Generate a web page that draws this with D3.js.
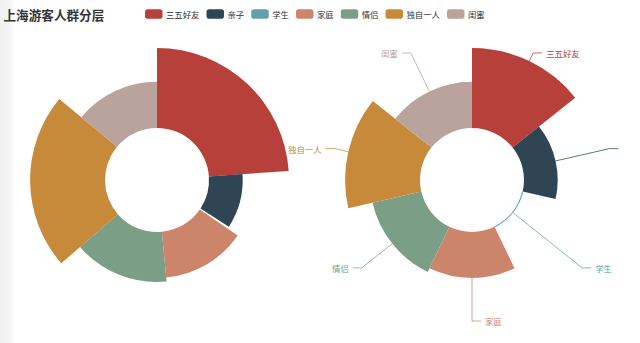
<!DOCTYPE html>
<html>
<head>
<meta charset="utf-8">
<script src="https://cdn.jsdelivr.net/npm/d3@7"></script>
<style>
  html, body { margin: 0; padding: 0; background: #fff; }
  svg { display: block; font-family: "Noto Sans CJK SC", "Noto Sans", sans-serif; }
</style>
</head>
<body>
<svg id="chart" width="640" height="343"></svg>
<script>
// Visitor groups and their counts
const categories = ["三五好友", "亲子", "学生", "家庭", "情侣", "独自一人", "闺蜜"];
const visitors = [239, 103, 4, 139, 151, 224, 140];
const palette = ["#b8403a", "#2f4554", "#61a0a8", "#cc846a", "#7b9e86", "#c7893a", "#b9a39c"];
const chartTitle = "上海游客人群分层";

const W = 640, H = 343;
const svg = d3.select("#chart");

// faint shaded margin on the left edge
const defs = svg.append("defs");
const grad = defs.append("linearGradient").attr("id", "edge").attr("x1", 0).attr("x2", 1);
grad.append("stop").attr("offset", 0).attr("stop-color", "#f1f1f1");
grad.append("stop").attr("offset", 0.7).attr("stop-color", "#f5f5f5");
grad.append("stop").attr("offset", 1).attr("stop-color", "#ffffff");
svg.append("rect").attr("x", 0).attr("y", 0).attr("width", 14).attr("height", H).attr("fill", "url(#edge)");

const data = categories.map((name, i) => ({ name, value: visitors[i], color: palette[i] }));

const innerR = 52, outerR = 132;
// rose radius: smallest value sits on the inner ring, largest on the outer ring
const rScale = d3.scaleLinear().domain(d3.extent(visitors)).range([innerR, outerR]);

const labelFont = 8.4;
const len1 = 9, len2 = 9, labelGap = 4, edgeMargin = 6;

function rose(cx, cy, mode, withLabels) {
  const pie = d3.pie().sort(null).value(d => (mode === "radius" ? d.value : 1));
  const arcs = pie(data);
  const g = svg.append("g").attr("transform", `translate(${cx},${cy})`);
  const arc = d3.arc().innerRadius(innerR).outerRadius(d => rScale(d.data.value));

  g.selectAll("path.slice").data(arcs).join("path")
    .attr("class", "slice")
    .attr("d", arc)
    .attr("fill", d => d.data.color)
    .attr("stroke", d => (mode === "area" && rScale(d.data.value) - innerR < 1) ? d.data.color : "none")
    .attr("stroke-width", 0.8);

  if (!withLabels) return;

  arcs.forEach(d => {
    const mid = (d.startAngle + d.endAngle) / 2;
    const dx = Math.sin(mid), dy = -Math.cos(mid);
    const r = rScale(d.data.value);
    const x1 = dx * r, y1 = dy * r;
    const x2 = dx * (outerR + len1), y2 = dy * (outerR + len1);
    const dir = dx > -1e-6 ? 1 : -1;
    const x3 = x2 + dir * len2;

    g.append("polyline")
      .attr("points", [[x1, y1], [x2, y2], [x3, y2]].map(p => p.join(",")).join(" "))
      .attr("fill", "none")
      .attr("stroke", d.data.color)
      .attr("stroke-width", 0.75);

    const t = g.append("text")
      .attr("x", x3 + dir * labelGap)
      .attr("y", y2)
      .attr("dominant-baseline", "central")
      .attr("text-anchor", dir > 0 ? "start" : "end")
      .attr("font-size", labelFont)
      .attr("fill", d.data.color)
      .text(d.data.name);
    // drop a label whose text would run past the chart edge
    const w = t.node().getComputedTextLength();
    const left = cx + x3 + dir * labelGap - (dir > 0 ? 0 : w);
    if (left < edgeMargin || left + w > W - edgeMargin) t.remove();
  });
}

rose(157, 180, "radius", false);
rose(472, 180, "area", true);

// title
svg.append("text")
  .attr("x", 3.5).attr("y", 20.3)
  .attr("font-size", 12.6).attr("font-weight", "bold")
  .attr("fill", "#333")
  .text(chartTitle);

// legend
const legend = svg.append("g");
let lx = 145;
const ly = 14;
data.forEach(d => {
  legend.append("rect")
    .attr("x", lx).attr("y", ly - 4.8)
    .attr("width", 17.5).attr("height", 9.6)
    .attr("rx", 2.8).attr("fill", d.color);
  const t = legend.append("text")
    .attr("x", lx + 21).attr("y", ly)
    .attr("dominant-baseline", "central")
    .attr("font-size", 8.4)
    .attr("fill", "#333")
    .text(d.name);
  lx += 21 + t.node().getComputedTextLength() + 7;
});
</script>
</body>
</html>
